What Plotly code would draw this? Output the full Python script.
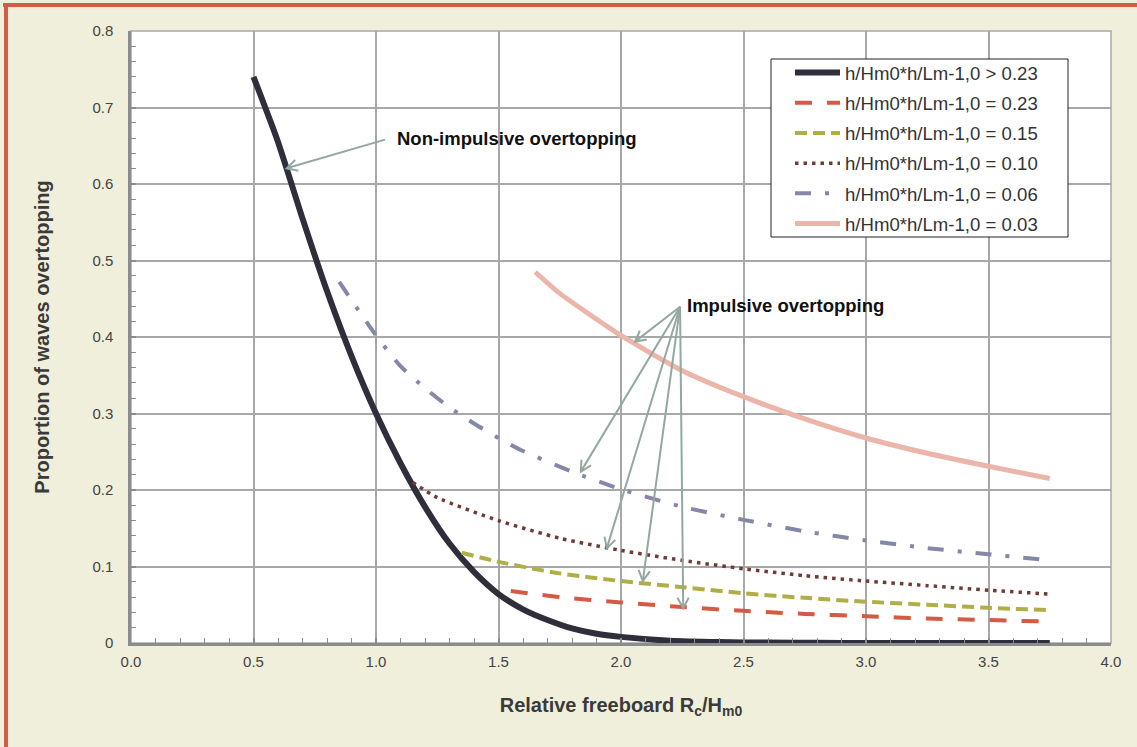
import math
import plotly.graph_objects as go

# ---------------- data ----------------
x_gt023 = [0.5, 0.6, 0.7, 0.8, 0.9, 1.0, 1.1, 1.2, 1.3, 1.4, 1.5, 1.6, 1.7, 1.8, 1.9, 2.0,
           2.2, 2.4, 2.6, 2.8, 3.0, 3.25, 3.5, 3.75]
y_gt023 = [0.74, 0.655, 0.555, 0.46, 0.375, 0.30, 0.235, 0.178, 0.13, 0.093, 0.064, 0.044,
           0.030, 0.019, 0.012, 0.008, 0.003, 0.0012, 0.0005, 0.0002, 0.0001, 0.0, 0.0, 0.0]

x_023 = [1.55, 1.75, 2.0, 2.25, 2.5, 2.75, 3.0, 3.25, 3.5, 3.75]
y_023 = [0.068, 0.060, 0.053, 0.047, 0.042, 0.038, 0.035, 0.032, 0.030, 0.028]

x_015 = [1.35, 1.5, 1.75, 2.0, 2.25, 2.5, 2.75, 3.0, 3.25, 3.5, 3.75]
y_015 = [0.118, 0.106, 0.091, 0.081, 0.073, 0.065, 0.059, 0.054, 0.050, 0.046, 0.043]

x_010 = [1.15, 1.25, 1.5, 1.75, 2.0, 2.25, 2.5, 2.75, 3.0, 3.25, 3.5, 3.75]
y_010 = [0.21, 0.19, 0.16, 0.137, 0.121, 0.108, 0.097, 0.088, 0.081, 0.075, 0.069, 0.064]

x_006 = [0.85, 1.0, 1.1, 1.2, 1.3, 1.4, 1.5, 1.6, 1.8, 2.0, 2.25, 2.5, 2.75, 3.0, 3.25, 3.5, 3.75]
y_006 = [0.472, 0.402, 0.362, 0.333, 0.308, 0.287, 0.268, 0.251, 0.224, 0.201, 0.178, 0.161,
         0.146, 0.134, 0.124, 0.116, 0.108]

x_003 = [1.65, 1.75, 2.0, 2.25, 2.5, 2.75, 3.0, 3.25, 3.5, 3.75]
y_003 = [0.485, 0.457, 0.402, 0.356, 0.322, 0.293, 0.268, 0.248, 0.231, 0.215]

series_names = [
    "h/Hm0*h/Lm-1,0 > 0.23",
    "h/Hm0*h/Lm-1,0 = 0.23",
    "h/Hm0*h/Lm-1,0 = 0.15",
    "h/Hm0*h/Lm-1,0 = 0.10",
    "h/Hm0*h/Lm-1,0 = 0.06",
    "h/Hm0*h/Lm-1,0 = 0.03",
]

x_ticks = [0.0, 0.5, 1.0, 1.5, 2.0, 2.5, 3.0, 3.5, 4.0]
y_ticks = [0.0, 0.1, 0.2, 0.3, 0.4, 0.5, 0.6, 0.7, 0.8]
y_ticktext = ["0", "0.1", "0.2", "0.3", "0.4", "0.5", "0.6", "0.7", "0.8"]
x_range = [0, 4]
y_range = [0, 0.8]

# annotation arrows (data coordinates: label anchor and arrow tips)
nonimp_label = "Non-impulsive overtopping"
nonimp_tail = (1.037, 0.658)
nonimp_tips_x = [0.635]
nonimp_tips_y = [0.6205]

imp_label = "Impulsive overtopping"
imp_tail = (2.241, 0.4396)
imp_tips_x = [2.057, 1.836, 1.942, 2.089, 2.254]
imp_tips_y = [0.394, 0.224, 0.1237, 0.0808, 0.0454]

# ---------------- styling ----------------
W, H = 1137, 747
ML, MR, MT, MB = 131, 26, 31, 104
PW, PH = W - ML - MR, H - MT - MB

FONT = "Arial, 'Liberation Sans', sans-serif"
BG = "#F0EFDC"
BORDER = "#D25C47"
GRID = "#A8A8A8"
AXIS = "#8C8C8C"
ARROW = "#94A89F"

SX = PW / (x_range[1] - x_range[0])   # px per x unit
SY = PH / (y_range[1] - y_range[0])   # px per y unit


def px_x(px):
    return (px - ML) / PW


def px_y(py):
    return (H - MB - py) / PH


def arrow_path(tail, tip, head_len=12, half_angle=28):
    """SVG path (data coords) for a shaft + open V head."""
    dx = (tip[0] - tail[0]) * SX
    dy = (tip[1] - tail[1]) * SY
    ang = math.atan2(dy, dx)
    pts = []
    for s in (1, -1):
        a = ang + math.pi + s * math.radians(half_angle)
        pts.append((tip[0] + head_len * math.cos(a) / SX, tip[1] + head_len * math.sin(a) / SY))
    return (f"M{tail[0]},{tail[1]} L{tip[0]},{tip[1]} "
            f"M{pts[0][0]},{pts[0][1]} L{tip[0]},{tip[1]} L{pts[1][0]},{pts[1][1]}")


styles = [
    dict(color="#2F2E3B", width=6, dash="solid"),
    dict(color="#D45A43", width=4, dash="17px,15px"),
    dict(color="#B0AE46", width=4, dash="12px,6px"),
    dict(color="#6E3B36", width=3.5, dash="3.5px,5px"),
    dict(color="#8587A8", width=4, dash="16px,14px,4px,14px"),
    dict(color="#EBB5AA", width=5, dash="solid"),
]

xs = [x_gt023, x_023, x_015, x_010, x_006, x_003]
ys = [y_gt023, y_023, y_015, y_010, y_006, y_003]

fig = go.Figure()
for i, (xx, yy, name, st) in enumerate(zip(xs, ys, series_names, styles)):
    fig.add_trace(go.Scatter(
        x=xx, y=yy, mode="lines", name=name, legendgroup=f"g{i}",
        line=dict(color=st["color"], width=st["width"], dash=st["dash"], shape="spline", smoothing=0.6),
        hoverinfo="skip",
    ))

label_font = dict(family=FONT, size=18.5, color="#111111")
annotations = [
    dict(x=nonimp_tail[0], y=nonimp_tail[1], xref="x", yref="y",
         text="<b>" + nonimp_label + "</b>", showarrow=False,
         xanchor="left", yanchor="middle", xshift=10, yshift=1, font=label_font),
    dict(x=imp_tail[0], y=imp_tail[1], xref="x", yref="y",
         text="<b>" + imp_label + "</b>", showarrow=False,
         xanchor="left", yanchor="middle", xshift=5, yshift=1, font=label_font),
]

shapes = [
    # plot frame (top / right)
    dict(type="rect", xref="paper", yref="paper", x0=0, x1=1, y0=0, y1=1,
         line=dict(color=GRID, width=1.5), layer="below"),
]
for tx, ty in zip(nonimp_tips_x, nonimp_tips_y):
    shapes.append(dict(type="path", xref="x", yref="y", path=arrow_path(nonimp_tail, (tx, ty)),
                       line=dict(color=ARROW, width=2), layer="above"))
for tx, ty in zip(imp_tips_x, imp_tips_y):
    shapes.append(dict(type="path", xref="x", yref="y", path=arrow_path(imp_tail, (tx, ty)),
                       line=dict(color=ARROW, width=2), layer="above"))
shapes += [
    # legend box
    dict(type="rect", xref="paper", yref="paper", x0=px_x(771), x1=px_x(1068),
         y0=px_y(237), y1=px_y(59), fillcolor="white", line=dict(color="#222222", width=1),
         layer="above"),
    # red outer border: left and top
    dict(type="line", xref="paper", yref="paper", x0=px_x(6), x1=px_x(6), y0=px_y(3), y1=px_y(H + 5),
         line=dict(color=BORDER, width=4)),
    dict(type="line", xref="paper", yref="paper", x0=px_x(3), x1=px_x(W + 5), y0=px_y(5), y1=px_y(5),
         line=dict(color=BORDER, width=4)),
]

fig.update_layout(
    width=W, height=H,
    margin=dict(l=ML, r=MR, t=MT, b=MB, autoexpand=False),
    paper_bgcolor=BG, plot_bgcolor="white",
    font=dict(family=FONT, size=15, color="#444444"),
    showlegend=True,
    legend=dict(
        x=px_x(790), y=px_y(54), xanchor="left", yanchor="top",
        bgcolor="rgba(0,0,0,0)", borderwidth=0,
        font=dict(family=FONT, size=18.6, color="#333333"),
        traceorder="grouped", tracegroupgap=3, itemwidth=45,
    ),
    annotations=annotations,
    shapes=shapes,
    xaxis=dict(
        range=x_range, tickvals=x_ticks, tickformat=".1f",
        showgrid=True, gridcolor=GRID, gridwidth=1.5,
        showline=True, linecolor=AXIS, linewidth=2.5,
        ticks="inside", ticklen=5, tickcolor=AXIS, tickwidth=1.5,
        minor=dict(dtick=0.1, ticks="inside", ticklen=5, tickcolor=AXIS, tickwidth=1.2, showgrid=False),
        zeroline=False, ticklabelstandoff=3,
        tickfont=dict(family=FONT, size=15, color="#444444"),
        title=dict(text="<b>Relative freeboard R<sub>c</sub>/H<sub>m0</sub></b>",
                   font=dict(family=FONT, size=20, color="#3A3A3A"), standoff=30),
    ),
    yaxis=dict(
        range=y_range, tickvals=y_ticks, ticktext=y_ticktext,
        showgrid=True, gridcolor=GRID, gridwidth=1.5,
        showline=True, linecolor=AXIS, linewidth=2.5,
        ticks="inside", ticklen=5, tickcolor=AXIS, tickwidth=1.5,
        minor=dict(dtick=0.02, ticks="inside", ticklen=5, tickcolor=AXIS, tickwidth=1.2, showgrid=False),
        zeroline=False, ticklabelstandoff=12,
        tickfont=dict(family=FONT, size=15, color="#444444"),
        title=dict(text="<b>Proportion of waves overtopping</b>",
                   font=dict(family=FONT, size=20, color="#3A3A3A"), standoff=38),
    ),
)

fig.write_html("out.html", config={"displayModeBar": False},
               post_script="document.body.style.margin='0';document.body.style.overflow='hidden';")
